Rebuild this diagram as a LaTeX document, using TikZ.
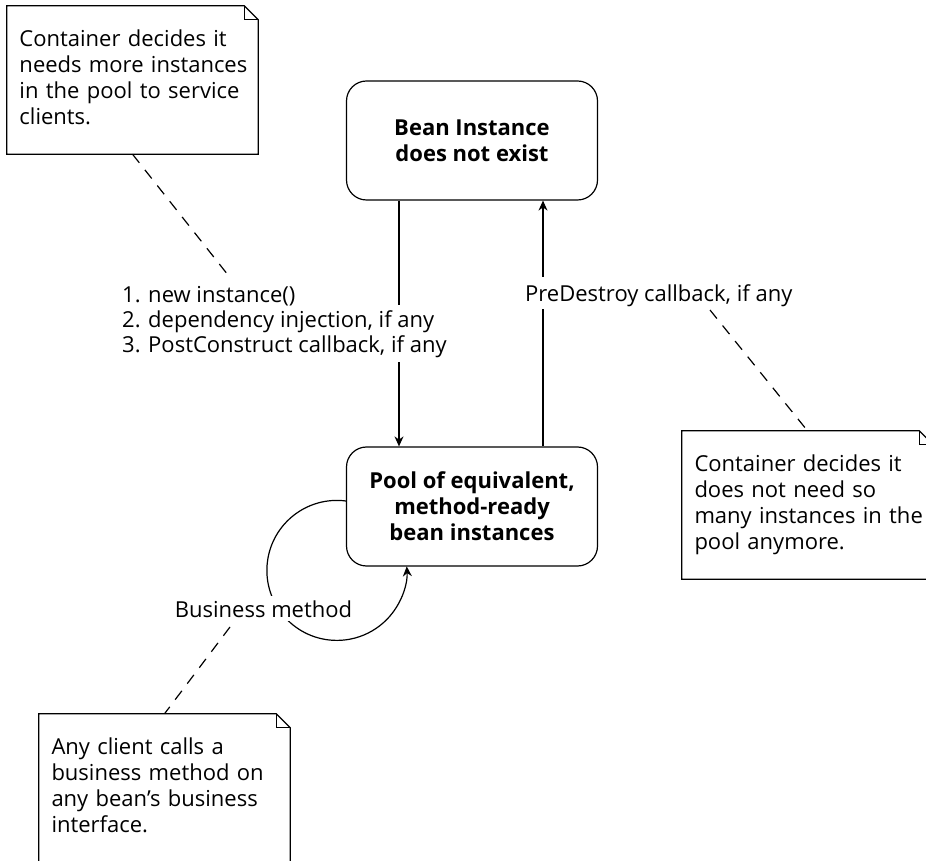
\documentclass[tikz,border=0pt]{standalone}
\usepackage{fontspec}
\setmainfont{Open Sans}
\usetikzlibrary{arrows.meta,calc}
\newcommand\drawnote[1]{%
  \draw[noteline] (#1.north west) -- ([xshift=-14pt]#1.north east) -- ([yshift=-14pt]#1.north east) -- (#1.south east) -- (#1.south west) -- cycle;
  \draw[noteline] ([xshift=-14pt]#1.north east) |- ([yshift=-14pt]#1.north east);}
\begin{document}
\begin{tikzpicture}[x=1pt,y=1pt,
  every node/.style={font=\fontsize{22}{25}\selectfont},
  state/.style={draw, line width=1.2pt, rounded corners=20pt, minimum width=251pt, minimum height=119pt, align=center, inner sep=0pt, font=\fontsize{22}{26}\selectfont\bfseries},
  note/.style={minimum width=251pt, minimum height=148pt, text width=226pt, inner xsep=12.5pt, inner ysep=0pt, align=left, font=\fontsize{22}{26}\selectfont, execute at begin node=\strut, execute at end node=\strut},
  noteline/.style={line width=1.2pt},
  arr/.style={line width=1.2pt, -{Stealth[length=10pt,width=9pt]}},
  link/.style={line width=1.2pt, dash pattern=on 11pt off 9pt},
  lbl/.style={inner xsep=2pt, inner ysep=0pt, align=left},
]
\useasboundingbox (0,0) rectangle (926,860);
\clip (0,0) rectangle (926,860);

\node[state] (bean) at (472,719.5) {Bean Instance\\does not exist};
\node[state] (pool) at (472,353.5) {Pool of equivalent,\\method-ready\\bean instances};

\draw[arr] ([xshift=-73pt]bean.south) -- ([xshift=-73pt]pool.north);
\draw[arr] ([xshift=71pt]pool.north) -- ([xshift=71pt]bean.south);
\draw[arr] ([yshift=5.5pt]pool.west) arc[start angle=82.6, end angle=363.3, radius=70pt];

\node[lbl, fill=white, anchor=north west, inner ysep=5pt] (l23) at (120,555) {2. dependency injection, if any\\3. PostConstruct callback, if any};
\node[lbl, anchor=base west] (l1) at (120,557) {1. new instance()};
\node[lbl, fill=white, anchor=base west, text height=25pt, text depth=7pt] (pd) at (523,558) {PreDestroy callback, if any};
\node[lbl, fill=white, anchor=base, inner ysep=4pt] (bm) at (263.5,243) {Business method};

\node[note] (n1) at (132.5,780) {\mbox{Container decides it}\\\mbox{needs more instances}\\\mbox{in the pool to service}\\\mbox{clients.}};
\node[note] (n2) at (807.5,355) {\mbox{Container decides it}\\\mbox{does not need so}\\\mbox{many instances in the}\\\mbox{pool anymore.}};
\node[note] (n3) at (164.5,72) {\mbox{Any client calls a}\\\mbox{business method on}\\\mbox{any bean’s business}\\\mbox{interface.}};
\drawnote{n1}
\drawnote{n2}
\drawnote{n3}

\coordinate (c1) at (228,585);
\coordinate (c2) at (710,550);
\coordinate (c3) at (230,233);
\draw[link] (n1.south) -- (c1);
\draw[link] (c2) -- (n2.north);
\draw[link] (c3) -- (n3.north);
\end{tikzpicture}
\end{document}
